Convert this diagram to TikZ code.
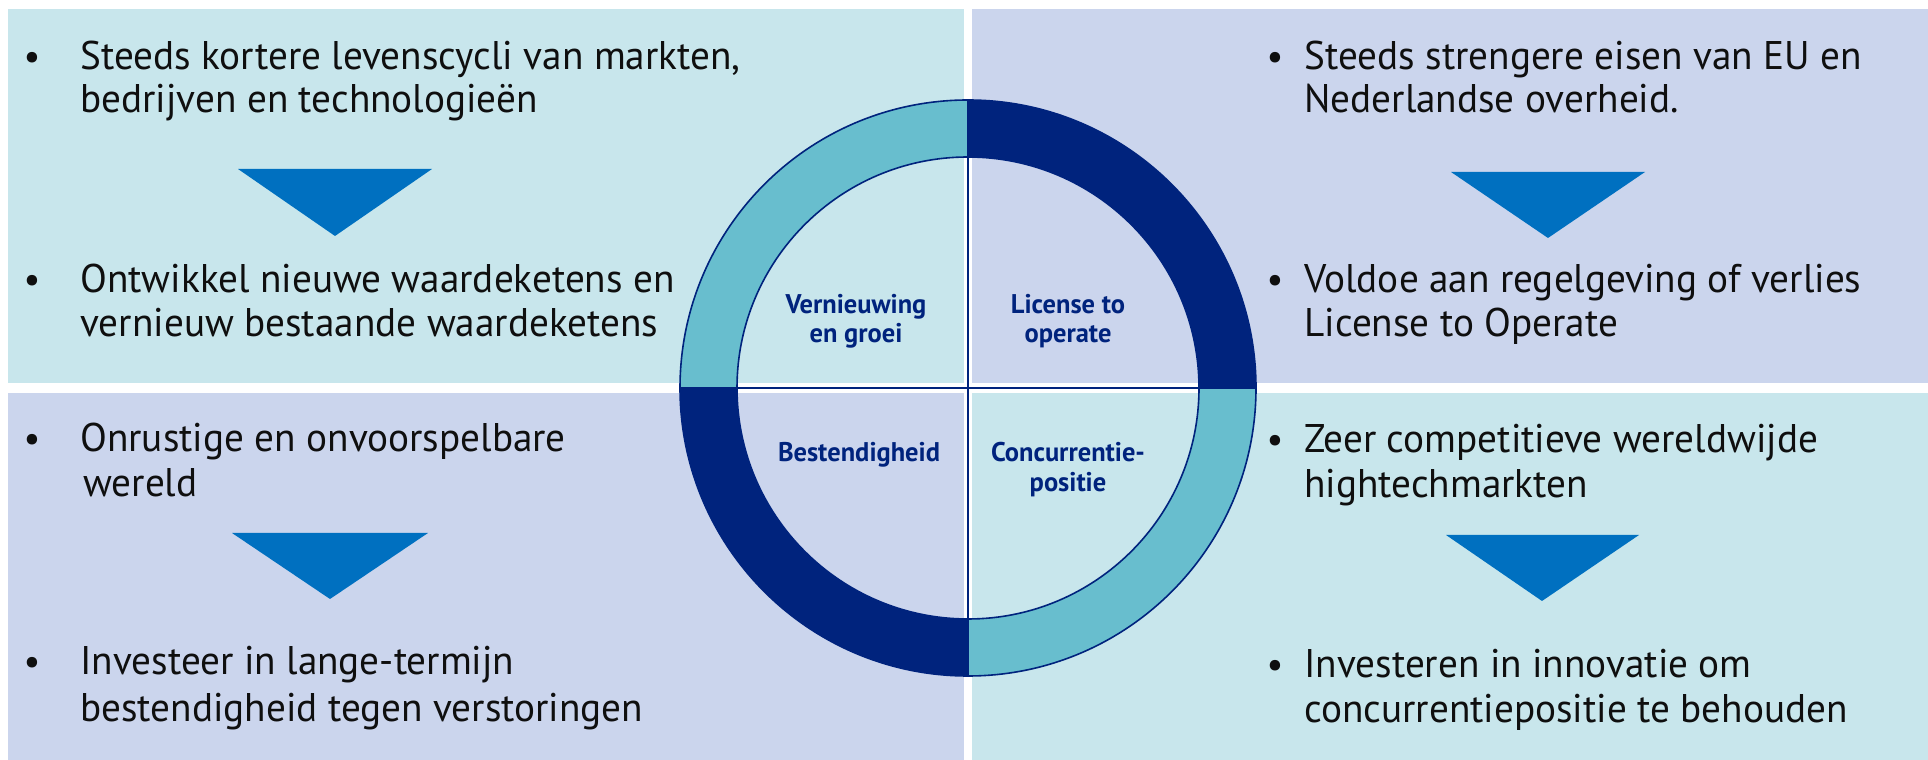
\documentclass[tikz,border=0pt]{standalone}
\usepackage{fontspec}
\setmainfont{PT Sans}
\newfontfamily\bodyf[FakeStretch=0.98]{PT Sans}
\newfontfamily\labf[FakeStretch=0.98]{PT Sans}
\usetikzlibrary{calc}
\definecolor{cyanbg}{RGB}{200,230,236}
\definecolor{lavbg}{RGB}{203,213,237}
\definecolor{ringteal}{RGB}{104,190,206}
\definecolor{navy}{RGB}{0,35,125}
\definecolor{triblue}{RGB}{0,112,192}
\definecolor{txtc}{RGB}{15,15,15}
\tikzset{
  txt/.style={anchor=base west, inner sep=0pt, text=txtc, font=\bodyf\fontsize{20}{23}\selectfont},
  bul/.style={anchor=base, inner sep=0pt, text=txtc, font=\bodyf\fontsize{19}{22}\selectfont},
  lab/.style={anchor=base, inner sep=0pt, text=navy, font=\labf\bfseries\fontsize{13.5}{15}\selectfont},
  tri/.style={fill=triblue},
  ringline/.style={draw=navy, line width=0.8pt},
  crossline/.style={draw=navy, line width=1.3pt}
}
\begin{document}
\begin{tikzpicture}[x=0.5pt,y=0.5pt]
\useasboundingbox (0,0) rectangle (1928,760);
\fill[white] (0,0) rectangle (1928,760);
% panels
\fill[cyanbg] (8,377) rectangle (964,751);
\fill[lavbg] (972,377) rectangle (1928,751);
\fill[lavbg] (8,0) rectangle (964,367);
\fill[cyanbg] (972,0) rectangle (1928,367);
% triangles
\fill[tri] (238,591) -- (432,591) -- (335,524) -- cycle;
\fill[tri] (1451,588) -- (1645,588) -- (1548,522) -- cycle;
\fill[tri] (232,227) -- (428,227) -- (330,161) -- cycle;
\fill[tri] (1446,225) -- (1639,225) -- (1542,159) -- cycle;
% ring
\coordinate (c) at (968,372);
\fill[ringteal] ($(c)+(90:288)$) arc[start angle=90,end angle=180,radius=288] -- ($(c)+(180:231)$) arc[start angle=180,end angle=90,radius=231] -- cycle;
\fill[navy] ($(c)+(0:288)$) arc[start angle=0,end angle=90,radius=288] -- ($(c)+(90:231)$) arc[start angle=90,end angle=0,radius=231] -- cycle;
\fill[navy] ($(c)+(180:288)$) arc[start angle=180,end angle=270,radius=288] -- ($(c)+(270:231)$) arc[start angle=270,end angle=180,radius=231] -- cycle;
\fill[ringteal] ($(c)+(270:288)$) arc[start angle=270,end angle=360,radius=288] -- ($(c)+(0:231)$) arc[start angle=0,end angle=-90,radius=231] -- cycle;
\draw[crossline] ($(c)+(-288,0)$) -- ($(c)+(288,0)$);
\draw[crossline] ($(c)+(0,-288)$) -- ($(c)+(0,288)$);
\draw[ringline] (c) circle[radius=288];
\draw[ringline] (c) circle[radius=231];
% circle labels
\node[lab] (l1a) at (856,446) {Vernieuwing};
\node[lab] (l1b) at (856,417) {en groei};
\node[lab] (l2a) at (1068,446) {License to};
\node[lab] (l2b) at (1068,417) {operate};
\node[lab] (l3a) at (859,298) {Bestendigheid};
\node[lab] (l4a) at (1068,298) {Concurrentie-};
\node[lab] (l4b) at (1068,268) {positie};
% top-left texts
\node[bul] (b1) at (32,690) {•};
\node[txt] (t1a) at (80,690) {Steeds kortere levenscycli van markten,};
\node[txt] (t1b) at (80,647) {bedrijven en technologieën};
\node[bul] (b2) at (32,467) {•};
\node[txt] (t2a) at (80,467) {Ontwikkel nieuwe waardeketens en};
\node[txt] (t2b) at (80,423) {vernieuw bestaande waardeketens};
% top-right texts
\node[bul] (b3) at (1275,690) {•};
\node[txt] (t3a) at (1304,690) {Steeds strengere eisen van EU en};
\node[txt] (t3b) at (1304,647) {Nederlandse overheid.};
\node[bul] (b4) at (1275,467) {•};
\node[txt] (t4a) at (1304,467) {Voldoe aan regelgeving of verlies};
\node[txt] (t4b) at (1304,423) {License to Operate};
% bottom-left texts
\node[bul] (b5) at (32,308) {•};
\node[txt] (t5a) at (80,308) {Onrustige en onvoorspelbare};
\node[txt] (t5b) at (83,263) {wereld};
\node[bul] (b6) at (32,85) {•};
\node[txt] (t6a) at (80,85) {Investeer in lange-termijn};
\node[txt] (t6b) at (80,38) {bestendigheid tegen verstoringen};
% bottom-right texts
\node[bul] (b7) at (1275,307) {•};
\node[txt] (t7a) at (1304,307) {Zeer competitieve wereldwijde};
\node[txt] (t7b) at (1304,262) {hightechmarkten};
\node[bul] (b8) at (1275,82) {•};
\node[txt] (t8a) at (1304,82) {Investeren in innovatie om};
\node[txt] (t8b) at (1304,37) {concurrentiepositie te behouden};
\end{tikzpicture}
\end{document}
